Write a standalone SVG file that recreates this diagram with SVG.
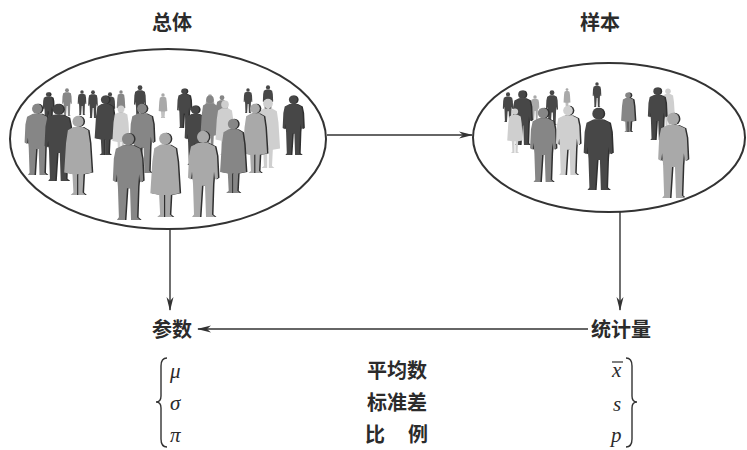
<svg xmlns="http://www.w3.org/2000/svg" xmlns:xlink="http://www.w3.org/1999/xlink" width="747" height="450" viewBox="0 0 747 450">
  <style>
    .title { font-family: "Noto Sans CJK SC", "Noto Sans", sans-serif; font-size: 20px; font-weight: 700; fill: #2b2b2b; }
    .label { font-family: "Noto Sans CJK SC", "Noto Sans", sans-serif; font-size: 20px; font-weight: 700; fill: #2b2b2b; }
    .sym { font-family: "Liberation Serif", "DejaVu Serif", serif; font-style: italic; font-size: 21px; fill: #2b2b2b; }
    .oval { fill: #ffffff; stroke: #333333; stroke-width: 2; }
    .conn { fill: none; stroke: #333333; stroke-width: 1.4; }
    .brace { fill: none; stroke: #333333; stroke-width: 1.4; }
    .dk { fill: #474747; }
    .md { fill: #868686; }
    .lt { fill: #a9a9a9; }
    .pl { fill: #cfcfcf; }
    .sh { fill: #303030; }
  </style>
  <defs>
    <marker id="dart" viewBox="0 0 14 8" refX="13" refY="4" markerWidth="14" markerHeight="8" markerUnits="userSpaceOnUse" orient="auto">
      <path d="M0,0.5 L14,4 L0,7.5 L4,4 Z" fill="#333333"/>
    </marker>
    <!-- standing man: 100 units tall, feet at y=100 -->
    <g id="man" transform="scale(1.15,1)">
      <ellipse cx="0" cy="8" rx="6" ry="7"/>
      <path d="M-5,15 L5,15 L12,19 L14,30 L15,55 L12,57 L11,48 L10,62 L9,97 L12,100 L3,100 L2,64 L-1,64 L-3,100 L-11,100 L-9,97 L-10,62 L-11,48 L-12,57 L-15,55 L-14,30 L-12,19 Z"/>
    </g>
    <!-- standing woman in a long coat -->
    <g id="woman" transform="scale(1.15,1)">
      <ellipse cx="0" cy="8" rx="6" ry="7"/>
      <path d="M-5,15 L5,15 L11,19 L13,35 L15,72 L6,74 L5,97 L8,100 L1,100 L1,74 L-1,74 L-1,100 L-8,100 L-5,97 L-6,74 L-15,72 L-13,35 L-11,19 Z"/>
    </g>
    <clipPath id="clipL"><ellipse cx="168" cy="139" rx="156" ry="88"/></clipPath>
    <clipPath id="clipR"><ellipse cx="609" cy="137.5" rx="134" ry="72.5"/></clipPath>
  </defs>

  <rect width="747" height="450" fill="#ffffff"/>

  <!-- population -->
  <g id="population">
    <text class="title" x="172" y="30" text-anchor="middle">总体</text>
    <ellipse class="oval" cx="168" cy="139" rx="158" ry="90"/>
    <g clip-path="url(#clipL)">
      <!-- back row -->
      <use href="#man" class="sh" transform="translate(49.5,92) scale(0.3)"/>
      <use href="#man" class="dk" transform="translate(48,92) scale(0.3)"/>
      <use href="#man" class="md" transform="translate(67,88) scale(0.28)"/>
      <use href="#man" class="dk" transform="translate(82,90) scale(0.25)"/>
      <use href="#man" class="dk" transform="translate(93,90) scale(0.28)"/>
      <use href="#man" class="dk" transform="translate(110,92) scale(0.3)"/>
      <use href="#woman" class="md" transform="translate(121,90) scale(0.25)"/>
      <use href="#man" class="dk" transform="translate(140,85) scale(0.35)"/>
      <use href="#woman" class="lt" transform="translate(163,93) scale(0.25)"/>
      <use href="#man" class="sh" transform="translate(185.5,88) scale(0.4)"/>
      <use href="#man" class="dk" transform="translate(184,88) scale(0.4)"/>
      <use href="#woman" class="lt" transform="translate(210,94) scale(0.3)"/>
      <use href="#man" class="md" transform="translate(222,95) scale(0.35)"/>
      <use href="#man" class="dk" transform="translate(248,88) scale(0.25)"/>
      <use href="#man" class="dk" transform="translate(268,85) scale(0.3)"/>
      <!-- middle row -->
      <use href="#man" class="sh" transform="translate(38.5,103) scale(0.72)"/>
      <use href="#man" class="md" transform="translate(37,103) scale(0.72)"/>
      <use href="#man" class="sh" transform="translate(59.5,103) scale(0.78)"/>
      <use href="#man" class="dk" transform="translate(58,103) scale(0.78)"/>
      <use href="#woman" class="sh" transform="translate(106.5,95) scale(0.6)"/>
      <use href="#woman" class="dk" transform="translate(105,95) scale(0.6)"/>
      <use href="#woman" class="pl" transform="translate(121,105) scale(0.5)"/>
      <use href="#man" class="sh" transform="translate(143.5,103) scale(0.7)"/>
      <use href="#man" class="md" transform="translate(142,103) scale(0.7)"/>
      <use href="#man" class="sh" transform="translate(196.5,105) scale(0.6)"/>
      <use href="#man" class="dk" transform="translate(195,105) scale(0.6)"/>
      <use href="#woman" class="md" transform="translate(210,95) scale(0.55)"/>
      <use href="#woman" class="pl" transform="translate(225,100) scale(0.55)"/>
      <use href="#woman" class="pl" transform="translate(268,98) scale(0.7)"/>
      <use href="#woman" class="sh" transform="translate(256.5,103) scale(0.7)"/>
      <use href="#woman" class="lt" transform="translate(255,103) scale(0.7)"/>
      <use href="#man" class="sh" transform="translate(294.5,95) scale(0.6)"/>
      <use href="#man" class="dk" transform="translate(293,95) scale(0.6)"/>
      <!-- front row -->
      <use href="#woman" class="sh" transform="translate(79.5,115) scale(0.8)"/>
      <use href="#woman" class="lt" transform="translate(78,115) scale(0.8)"/>
      <use href="#woman" class="sh" transform="translate(234.5,118) scale(0.75)"/>
      <use href="#woman" class="md" transform="translate(233,118) scale(0.75)"/>
      <use href="#man" class="sh" transform="translate(129.5,132) scale(0.88)"/>
      <use href="#man" class="md" transform="translate(128,132) scale(0.88)"/>
      <use href="#woman" class="sh" transform="translate(166.5,132) scale(0.85)"/>
      <use href="#woman" class="lt" transform="translate(165,132) scale(0.85)"/>
      <use href="#man" class="sh" transform="translate(204.5,130) scale(0.87)"/>
      <use href="#man" class="lt" transform="translate(203,130) scale(0.87)"/>
    </g>
  </g>

  <!-- sample -->
  <g id="sample">
    <text class="title" x="600" y="30" text-anchor="middle">样本</text>
    <ellipse class="oval" cx="609" cy="137.5" rx="136" ry="74.5"/>
    <g clip-path="url(#clipR)">
      <use href="#man" class="dk" transform="translate(508,92) scale(0.3)"/>
      <use href="#man" class="lt" transform="translate(535,95) scale(0.25)"/>
      <use href="#man" class="dk" transform="translate(552,90) scale(0.35)"/>
      <use href="#woman" class="lt" transform="translate(567,88) scale(0.2)"/>
      <use href="#man" class="dk" transform="translate(597,82) scale(0.25)"/>
      <use href="#woman" class="sh" transform="translate(629.5,92) scale(0.4)"/>
      <use href="#woman" class="md" transform="translate(628,92) scale(0.4)"/>
      <use href="#woman" class="pl" transform="translate(668,88) scale(0.4)"/>
      <use href="#man" class="sh" transform="translate(658.5,87) scale(0.53)"/>
      <use href="#man" class="dk" transform="translate(657,87) scale(0.53)"/>
      <use href="#man" class="sh" transform="translate(523.5,90) scale(0.55)"/>
      <use href="#man" class="dk" transform="translate(522,90) scale(0.55)"/>
      <use href="#woman" class="pl" transform="translate(515,108) scale(0.45)"/>
      <use href="#man" class="sh" transform="translate(544.5,107) scale(0.75)"/>
      <use href="#man" class="md" transform="translate(543,107) scale(0.75)"/>
      <use href="#man" class="sh" transform="translate(569.5,105) scale(0.7)"/>
      <use href="#man" class="pl" transform="translate(568,105) scale(0.7)"/>
      <use href="#man" class="sh" transform="translate(599.5,107) scale(0.83)"/>
      <use href="#man" class="dk" transform="translate(598,107) scale(0.83)"/>
      <use href="#man" class="sh" transform="translate(674.5,112) scale(0.86)"/>
      <use href="#man" class="lt" transform="translate(673,112) scale(0.86)"/>
    </g>
  </g>

  <!-- parameters -->
  <g id="parameters">
    <text class="label" x="152" y="337">参数</text>
  </g>

  <!-- statistics -->
  <g id="statistics">
    <text class="label" x="591" y="337">统计量</text>
  </g>

  <!-- correspondence table -->
  <g id="table">
    <path class="brace" d="M167,358 Q161,358 161,366 L161,396 Q161,402 156,402 Q161,402 161,408 L161,439 Q161,447 167,447"/>
    <path class="brace" d="M626,358 Q632,358 632,366 L632,396 Q632,402 637,402 Q632,402 632,408 L632,439 Q632,447 626,447"/>
    <text class="sym" x="170" y="378">μ</text>
    <text class="sym" x="170" y="410">σ</text>
    <text class="sym" x="170" y="442">π</text>
    <text class="label" x="397" y="378" text-anchor="middle">平均数</text>
    <text class="label" x="397" y="410" text-anchor="middle">标准差</text>
    <text class="label" x="365" y="442" textLength="63" lengthAdjust="spacing" xml:space="preserve">比 例</text>
    <text class="sym" x="612" y="377">x</text>
    <line x1="612" y1="362" x2="623" y2="362" stroke="#2b2b2b" stroke-width="1.2"/>
    <text class="sym" x="613" y="411">s</text>
    <text class="sym" x="611" y="442">p</text>
  </g>

  <!-- connectors -->
  <g id="connectors">
    <line class="conn" x1="327" y1="135" x2="472" y2="135" marker-end="url(#dart)"/>
    <line class="conn" x1="170" y1="229" x2="170" y2="310" marker-end="url(#dart)"/>
    <line class="conn" x1="620" y1="212" x2="620" y2="310" marker-end="url(#dart)"/>
    <line class="conn" x1="588" y1="329" x2="198" y2="329" marker-end="url(#dart)"/>
  </g>
</svg>
